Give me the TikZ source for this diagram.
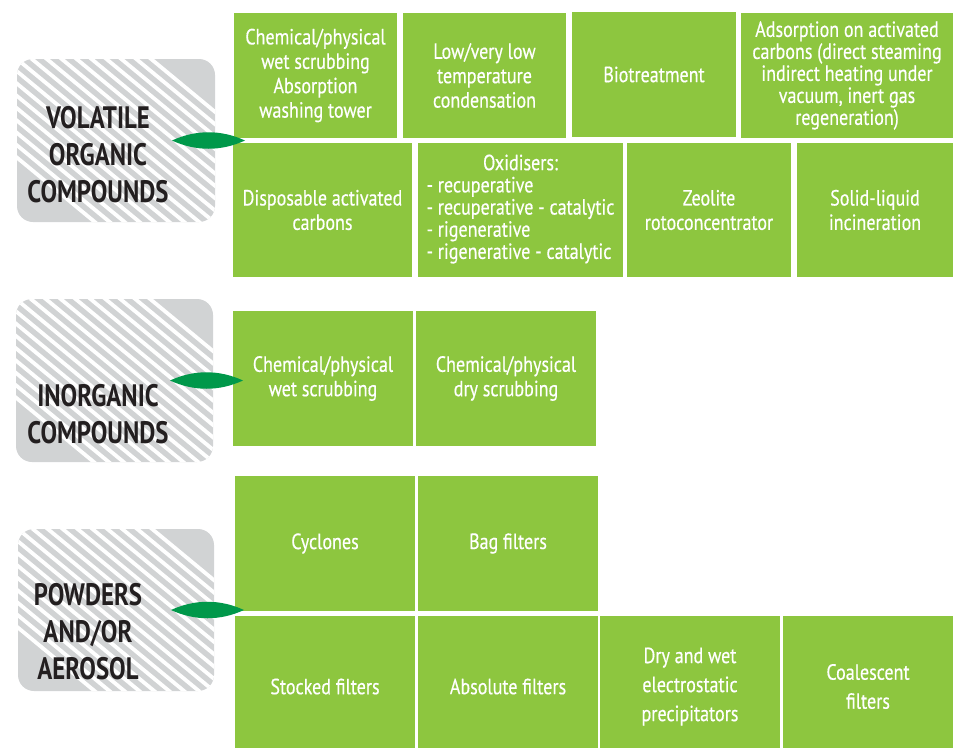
\documentclass[tikz,border=0pt]{standalone}
\usepackage{fontspec}
\setmainfont[FakeStretch=0.82,FakeBold=0.4]{PT Sans}
\newfontfamily\catfont[FakeStretch=0.8]{PT Sans Bold}
\usetikzlibrary{calc}
\definecolor{techgreen}{HTML}{8DC63F}
\definecolor{leafgreen}{HTML}{00984A}
\definecolor{catgray}{HTML}{D1D3D4}
\definecolor{catink}{HTML}{231F20}
\tikzset{
  tech/.style 2 args={fill=techgreen, text=white, align=center, inner sep=0pt, outer sep=0pt,
    minimum width=#1pt, minimum height=#2pt, font=\fontsize{22}{24.4}\selectfont},
  wide/.style={font=\fontsize{22}{29}\selectfont},
  tight/.style={font=\fontsize{22}{22}\selectfont},
  cat/.style 2 args={fill=catgray, rounded corners=16pt, inner sep=0pt, outer sep=0pt,
    minimum width=#1pt, minimum height=#2pt},
  catlabel/.style={text=catink, align=center, font=\catfont\fontsize{31}{37}\selectfont},
  leaf/.style={fill=leafgreen},
  stripe/.style={white, line width=3.8pt}
}
\def\sang{39.6}% stripe angle
\def\sgap{9.5}% stripe spacing
% band of hatching along the diagonal of a category box
\newcommand\stripes[1]{%
  \begin{scope}
    \clip[rounded corners=16pt] (#1.north west) rectangle (#1.south east);
    \foreach \k in {-8,...,9}
      \draw[stripe] ($(#1.north west)+(\sang-90:\k*\sgap)+(\sang:-300)$) -- ++(\sang:600);
  \end{scope}}
\newcommand\leaf[1]{%
  \fill[leaf] ($(#1.east)+(-43,0)$) .. controls +(24,-11) and +(-24,-11) .. ($(#1.east)+(30,0)$)
    .. controls +(-24,11) and +(24,11) .. ($(#1.east)+(-43,0)$);}
\begin{document}
\begin{tikzpicture}[x=1pt,y=-1pt]
  \useasboundingbox (0,0) rectangle (953,747);

  %%%%% categories %%%%%
  \node[cat={198}{163}] (voc) at (116,140.5) {};
  \node[cat={197}{163}] (inorg) at (114.5,380.5) {};
  \node[cat={196}{162}] (pow) at (116,610) {};
  \stripes{voc}
  \stripes{inorg}
  \stripes{pow}
  \node[catlabel] (voctxt) at (98,155) {VOLATILE\\ORGANIC\\COMPOUNDS};
  \node[catlabel] (inorgtxt) at (98,414) {INORGANIC\\COMPOUNDS};
  \node[catlabel] (powtxt) at (88,632) {POWDERS\\AND/OR\\AEROSOL};

  %%%%% volatile organic compounds %%%%%
  \node[tech={163}{125}] (v11) at (315.5,75.5) {Chemical/physical\\wet scrubbing\\Absorption\\washing tower};
  \node[tech={163}{125}] (v12) at (484.5,75.5) {Low/very low\\temperature\\condensation};
  \node[tech={164}{125}] (v13) at (654,74.5) {Biotreatment};
  \node[tech={212}{125}, tight] (v14) at (847,75.5) {Adsorption on activated\\carbons (direct steaming\\indirect heating under\\vacuum, inert gas\\regeneration)};
  \node[tech={179}{134}] (v21) at (322.5,210) {Disposable activated\\carbons};
  \node[tech={205}{134}, tight] (v22) at (520.5,210) {\begin{tabular}{@{}l@{}}\multicolumn{1}{@{}c@{}}{Oxidisers:}\\- recuperative\\- recuperative - catalytic\\- rigenerative\\- rigenerative - catalytic\end{tabular}};
  \node[tech={164}{134}] (v23) at (709,210) {Zeolite\\rotoconcentrator};
  \node[tech={156}{134}] (v24) at (875,210) {Solid-liquid\\incineration};

  %%%%% inorganic compounds %%%%%
  \node[tech={180}{135}] (i1) at (323,378.5) {Chemical/physical\\wet scrubbing};
  \node[tech={180}{135}] (i2) at (506,378.5) {Chemical/physical\\dry scrubbing};

  %%%%% powders and/or aerosol %%%%%
  \node[tech={180}{135}] (p11) at (325,543.5) {Cyclones};
  \node[tech={180}{135}] (p12) at (508,543.5) {Bag filters};
  \node[tech={180}{141}, wide] (p21) at (325,686.5) {Stocked filters};
  \node[tech={180}{141}, wide] (p22) at (508,686.5) {Absolute filters};
  \node[tech={180}{141}, wide] (p23) at (690,686.5) {Dry and wet\\electrostatic\\precipitators};
  \node[tech={170}{141}, wide] (p24) at (868,686.5) {Coalescent\\filters};

  \leaf{voc}
  \leaf{inorg}
  \leaf{pow}
\end{tikzpicture}
\end{document}
